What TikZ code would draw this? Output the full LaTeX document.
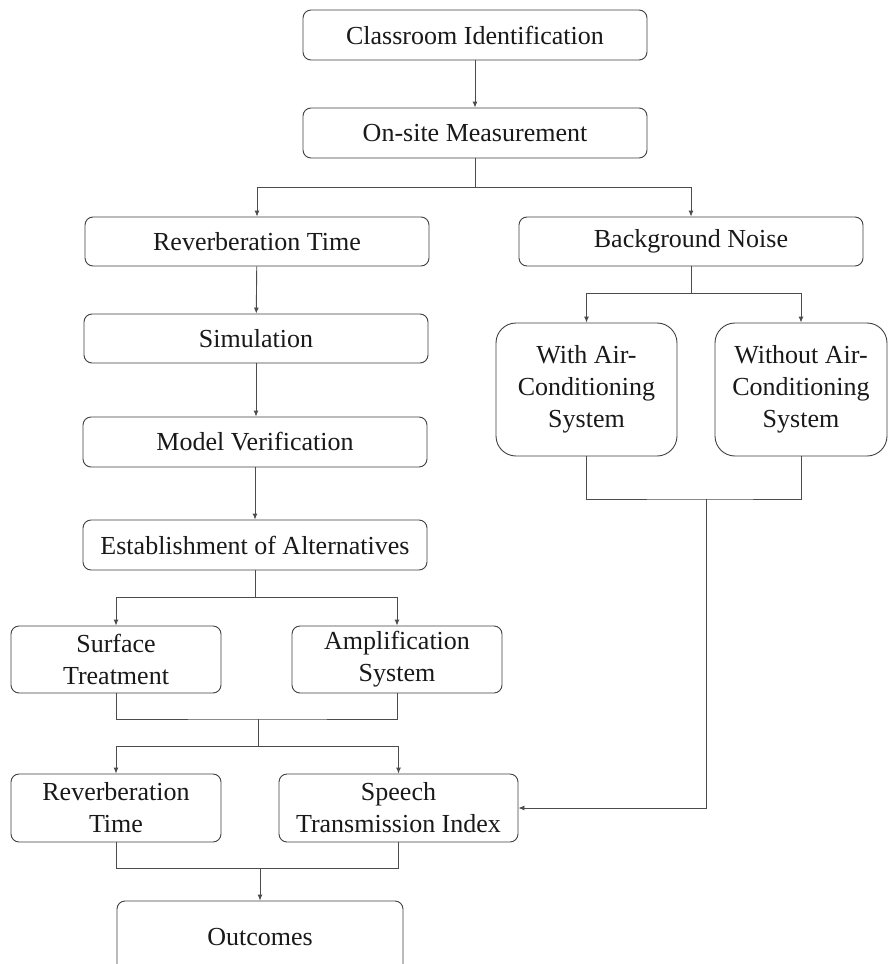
\documentclass[tikz,border=0pt]{standalone}
\usepackage{fontspec}
\setmainfont{Liberation Serif}
\usetikzlibrary{arrows.meta}
\begin{document}
\begin{tikzpicture}[x=1pt,y=-1pt,
  box/.style={draw=black!75,line width=0.9pt,rounded corners=8pt,inner sep=0pt,align=center,
    font=\fontsize{26}{32}\selectfont,text=black!90},
  bigbox/.style={box,rounded corners=20pt},
  ln/.style={draw=black!70,line width=0.9pt},
  arr/.style={ln,-{Latex[length=6pt,width=5pt]}}]
\clip (0,0) rectangle (888,964);
\fill[white] (0,0) rectangle (888,964);
\node[box,minimum width=344pt,minimum height=50pt] (ci) at (475,35) {Classroom Identification};
\node[box,minimum width=344pt,minimum height=50pt] (os) at (475,133) {On-site Measurement};
\node[box,minimum width=344pt,minimum height=49pt] (rt) at (257,241.5) {Reverberation Time};
\node[box,minimum width=344pt,minimum height=49pt] (bn) at (691,241.5) {Background Noise};
\node[box,minimum width=344pt,minimum height=49pt] (sim) at (256,338.5) {Simulation};
\node[box,minimum width=344pt,minimum height=50pt] (mv) at (255,442) {Model Verification};
\node[box,minimum width=344pt,minimum height=50pt] (ea) at (255,545) {Establishment of Alternatives};
\node[box,minimum width=210pt,minimum height=67pt] (st) at (116,659.5) {Surface\\Treatment};
\node[box,minimum width=210pt,minimum height=67pt] (as) at (397,659.5) {Amplification\\System};
\node[box,minimum width=210pt,minimum height=68pt] (rt2) at (116,808) {Reverberation\\Time};
\node[box,minimum width=239pt,minimum height=68pt] (sti) at (398.5,808) {Speech\\Transmission Index};
\node[box,minimum width=286pt,minimum height=72pt] (out) at (260,937) {Outcomes};
\node[bigbox,minimum width=181pt,minimum height=133pt] (wac) at (586.5,389.5) {With Air-\\Conditioning\\System};
\node[bigbox,minimum width=172pt,minimum height=133pt] (woac) at (801,389.5) {Without Air-\\Conditioning\\System};
% connectors
\draw[arr] (ci) -- (os);
\coordinate (j1) at (475,187);
\draw[ln] (os.south) -- (j1);
\draw[arr] (j1) -| (rt.north);
\draw[arr] (j1) -| (bn.north);
\draw[arr] (rt) -- (sim);
\draw[arr] (sim.south) -- (sim.south |- mv.north);
\draw[arr] (mv) -- (ea);
\coordinate (j2) at (255,597);
\draw[ln] (ea.south) -- (j2);
\draw[arr] (j2) -| (st.north);
\draw[arr] (j2) -| (as.north);
\coordinate (j3) at (258,719);
\coordinate (j4) at (258,746);
\draw[ln] (st.south) |- (j3) -| (as.south);
\draw[ln] (j3) -- (j4);
\draw[arr] (j4) -| (rt2.north);
\draw[arr] (j4) -| (sti.north);
\coordinate (j5) at (260,868);
\draw[ln] (rt2.south) |- (j5) -| (sti.south);
\draw[arr] (j5) -- (out.north);
\coordinate (j6) at (691,293);
\draw[ln] (bn.south) -- (j6);
\draw[arr] (j6) -| (wac.north);
\draw[arr] (j6) -| (woac.north);
\coordinate (j7) at (706,499);
\draw[ln] (wac.south) |- (j7) -| (woac.south);
\draw[arr] (j7) |- (sti.east);
\end{tikzpicture}
\end{document}
